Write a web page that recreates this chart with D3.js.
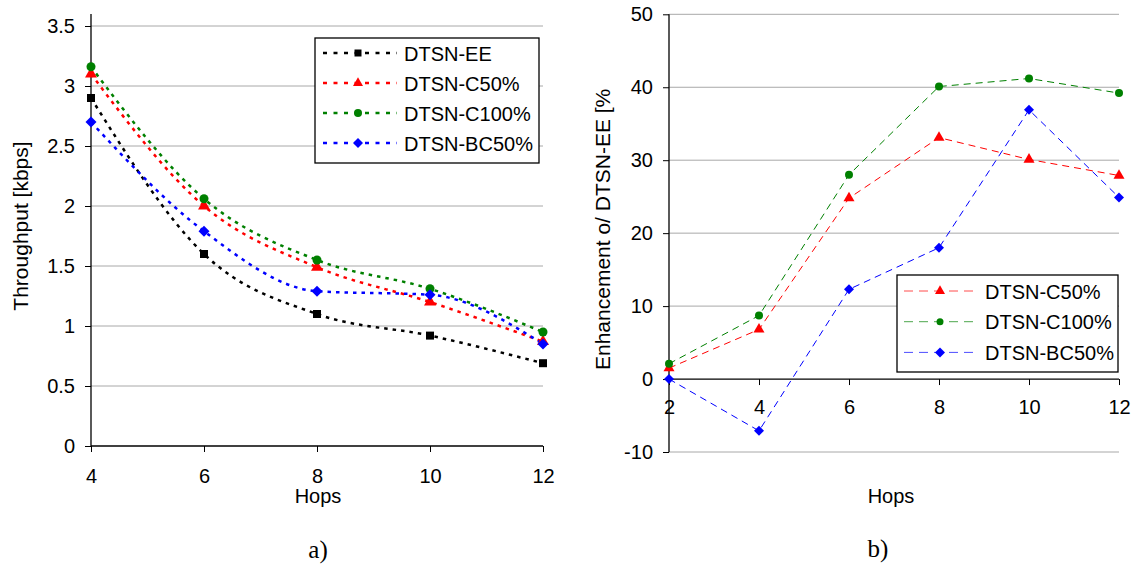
<!DOCTYPE html>
<html>
<head>
<meta charset="utf-8">
<script src="https://cdn.jsdelivr.net/npm/d3@7"></script>
<style>
  html, body { margin: 0; padding: 0; background: #fff; }
  svg { display: block; }
  text { font-family: "Liberation Sans", Arial, sans-serif; fill: #000; }
  .serif { font-family: "Liberation Serif", "Times New Roman", serif; }
</style>
</head>
<body>
<svg id="chart" width="1136" height="567"></svg>
<script>
// ---- (a) throughput vs. hops ----
const hopsA = [4, 6, 8, 10, 12];
const thrEE = [2.9, 1.6, 1.1, 0.92, 0.69];
const thrC50 = [3.1, 2.0, 1.49, 1.2, 0.87];
const thrC100 = [3.16, 2.06, 1.55, 1.31, 0.95];
const thrBC50 = [2.7, 1.79, 1.29, 1.26, 0.85];
const yTicksA = [0, 0.5, 1, 1.5, 2, 2.5, 3, 3.5];
const xTicksA = [4, 6, 8, 10, 12];

// ---- (b) enhancement over DTSN-EE ----
const hopsB = [2, 4, 6, 8, 10, 12];
const encC50 = [1.5, 6.8, 24.8, 33.1, 30.1, 27.9];
const encC100 = [2.1, 8.7, 28.0, 40.1, 41.2, 39.2];
const encBC50 = [0, -7.1, 12.3, 18.0, 36.9, 24.9];
const yTicksB = [-10, 0, 10, 20, 30, 40, 50];
const xTicksB = [2, 4, 6, 8, 10, 12];

const namesA = ["DTSN-EE", "DTSN-C50%", "DTSN-C100%", "DTSN-BC50%"];
const namesB = ["DTSN-C50%", "DTSN-C100%", "DTSN-BC50%"];

const svg = d3.select("#chart");
const GRID = "#a8a8a8";
const plain = d => String(d);   // keeps an ASCII hyphen for negatives

// marker factory: square, triangle, circle, diamond (rotated square)
function marker(g, kind, x, y, s, color) {
  let path, rot = 0;
  if (kind === "square") path = d3.symbol(d3.symbolSquare, s * s)();
  else if (kind === "triangle") path = d3.symbol(d3.symbolTriangle, Math.sqrt(3) / 4 * s * s)();
  else if (kind === "circle") path = d3.symbol(d3.symbolCircle, Math.PI * (s / 2) * (s / 2))();
  else { path = d3.symbol(d3.symbolSquare, (s * s) / 2)(); rot = 45; }
  g.append("path")
    .attr("d", path)
    .attr("transform", `translate(${x},${y}) rotate(${rot})`)
    .attr("fill", color);
}

/* ================= panel (a) ================= */
{
  const x = d3.scaleLinear().domain([4, 12]).range([91, 543]);
  const y = d3.scaleLinear().domain([0, 3.6]).range([446, 14]);
  const g = svg.append("g");

  // gridlines
  g.selectAll("line.grid").data(yTicksA.filter(d => d > 0)).join("line")
    .attr("x1", x(4)).attr("x2", x(12))
    .attr("y1", d => y(d)).attr("y2", d => y(d))
    .attr("stroke", GRID).attr("stroke-width", 1);

  // y axis
  const yAxis = d3.axisLeft(y).tickValues(yTicksA).tickSize(6).tickPadding(10)
    .tickFormat(plain);
  const ya = g.append("g").attr("transform", `translate(${x(4)},0)`).call(yAxis);
  ya.select(".domain").remove();
  ya.selectAll(".tick line").attr("stroke", "#000");
  ya.selectAll("text").style("font-size", "20px").attr("fill", "#000");
  g.append("line").attr("x1", x(4)).attr("x2", x(4)).attr("y1", y(3.6)).attr("y2", y(0))
    .attr("stroke", "#000").attr("stroke-width", 1.3);

  // x axis
  const xAxis = d3.axisBottom(x).tickValues(xTicksA).tickSize(6).tickPadding(17)
    .tickFormat(plain);
  const xa = g.append("g").attr("transform", `translate(0,${y(0)})`).call(xAxis);
  xa.select(".domain").remove();
  xa.selectAll(".tick line").attr("stroke", "#000");
  xa.selectAll("text").style("font-size", "20px").attr("fill", "#000");
  g.append("line").attr("x1", x(4)).attr("x2", x(12)).attr("y1", y(0)).attr("y2", y(0))
    .attr("stroke", "#000").attr("stroke-width", 1.3);

  // series
  const series = [
    { vals: thrEE, color: "#000000", kind: "square", s: 8 },
    { vals: thrC50, color: "#ff0000", kind: "triangle", s: 12 },
    { vals: thrC100, color: "#008000", kind: "circle", s: 9 },
    { vals: thrBC50, color: "#0000ff", kind: "diamond", s: 11 }
  ];
  const line = d3.line().x((d, i) => x(hopsA[i])).y(d => y(d))
    .curve(d3.curveMonotoneX);
  series.forEach(s => {
    g.append("path").attr("d", line(s.vals)).attr("fill", "none")
      .attr("stroke", s.color).attr("stroke-width", 2.5)
      .attr("stroke-dasharray", "3.5,5");
  });
  series.forEach(s => {
    s.vals.forEach((v, i) => marker(g, s.kind, x(hopsA[i]), y(v), s.s, s.color));
  });

  // legend
  const lg = g.append("g");
  lg.append("rect").attr("x", 315).attr("y", 38).attr("width", 224).attr("height", 125)
    .attr("fill", "#fff").attr("stroke", "#000").attr("stroke-width", 1.3);
  const legendMarks = [
    { kind: "square", s: 7 }, { kind: "triangle", s: 10 },
    { kind: "circle", s: 8 }, { kind: "diamond", s: 10 }
  ];
  namesA.forEach((name, i) => {
    const cy = 53 + i * 30;
    lg.append("line").attr("x1", 323).attr("x2", 397).attr("y1", cy).attr("y2", cy)
      .attr("stroke", series[i].color).attr("stroke-width", 2.5)
      .attr("stroke-dasharray", "4,6.5");
    marker(lg, legendMarks[i].kind, 358, cy, legendMarks[i].s, series[i].color);
    lg.append("text").attr("x", 404).attr("y", cy + 7.5).style("font-size", "20px").text(name);
  });

  // titles
  g.append("text").attr("transform", "translate(28,226) rotate(-90)")
    .attr("text-anchor", "middle").style("font-size", "21px").text("Throughput [kbps]");
  g.append("text").attr("x", 318).attr("y", 503).attr("text-anchor", "middle")
    .style("font-size", "20px").text("Hops");
  g.append("text").attr("class", "serif").attr("x", 318).attr("y", 558)
    .attr("text-anchor", "middle").style("font-size", "25px").text("a)");
}

/* ================= panel (b) ================= */
{
  const x = d3.scaleLinear().domain([2, 12]).range([669, 1119]);
  const y = d3.scaleLinear().domain([-10, 50]).range([452, 14.3]);
  const g = svg.append("g");

  // gridlines
  g.selectAll("line.grid").data(yTicksB.filter(d => d !== 0)).join("line")
    .attr("x1", x(2)).attr("x2", x(12))
    .attr("y1", d => y(d)).attr("y2", d => y(d))
    .attr("stroke", GRID).attr("stroke-width", 1);

  // y axis
  const yAxis = d3.axisLeft(y).tickValues(yTicksB).tickSize(6).tickPadding(10)
    .tickFormat(plain);
  const ya = g.append("g").attr("transform", `translate(${x(2)},0)`).call(yAxis);
  ya.select(".domain").remove();
  ya.selectAll(".tick line").attr("stroke", "#000");
  ya.selectAll("text").style("font-size", "20px").attr("fill", "#000");
  g.append("line").attr("x1", x(2)).attr("x2", x(2)).attr("y1", y(50)).attr("y2", y(-10))
    .attr("stroke", "#000").attr("stroke-width", 1.3);

  // x axis at zero
  const xAxis = d3.axisBottom(x).tickValues(xTicksB).tickSize(6).tickPadding(15)
    .tickFormat(plain);
  const xa = g.append("g").attr("transform", `translate(0,${y(0)})`).call(xAxis);
  xa.select(".domain").remove();
  xa.selectAll(".tick line").attr("stroke", "#000");
  xa.selectAll("text").style("font-size", "20px").attr("fill", "#000");
  g.append("line").attr("x1", x(2)).attr("x2", x(12)).attr("y1", y(0)).attr("y2", y(0))
    .attr("stroke", "#000").attr("stroke-width", 1.3);

  // series
  const series = [
    { vals: encC50, color: "#ff0000", kind: "triangle", s: 11 },
    { vals: encC100, color: "#008000", kind: "circle", s: 8 },
    { vals: encBC50, color: "#0000ff", kind: "diamond", s: 10 }
  ];
  const line = d3.line().x((d, i) => x(hopsB[i])).y(d => y(d));
  series.forEach(s => {
    g.append("path").attr("d", line(s.vals)).attr("fill", "none")
      .attr("stroke", s.color).attr("stroke-width", 1)
      .attr("stroke-dasharray", "7,5");
  });
  series.forEach(s => {
    s.vals.forEach((v, i) => marker(g, s.kind, x(hopsB[i]), y(v), s.s, s.color));
  });

  // legend
  const lg = g.append("g");
  lg.append("rect").attr("x", 897).attr("y", 275).attr("width", 221).attr("height", 97)
    .attr("fill", "#fff").attr("stroke", "#000").attr("stroke-width", 1.3);
  const legendMarks = [
    { kind: "triangle", s: 10 }, { kind: "circle", s: 7 }, { kind: "diamond", s: 10 }
  ];
  namesB.forEach((name, i) => {
    const cy = 291 + i * 30.7;
    lg.append("line").attr("x1", 904).attr("x2", 974).attr("y1", cy).attr("y2", cy)
      .attr("stroke", series[i].color).attr("stroke-width", 1).attr("stroke-opacity", 0.7)
      .attr("stroke-dasharray", "9,6");
    marker(lg, legendMarks[i].kind, 940, cy, legendMarks[i].s, series[i].color);
    lg.append("text").attr("x", 985).attr("y", cy + 7.5).style("font-size", "20px").text(name);
  });

  // titles
  g.append("text").attr("transform", "translate(610,370) rotate(-90)")
    .attr("text-anchor", "start").style("font-size", "21px").text("Enhancement o/ DTSN-EE [%");
  g.append("text").attr("x", 891).attr("y", 503).attr("text-anchor", "middle")
    .style("font-size", "20px").text("Hops");
  g.append("text").attr("class", "serif").attr("x", 878).attr("y", 557)
    .attr("text-anchor", "middle").style("font-size", "25px").text("b)");
}
</script>
</body>
</html>
